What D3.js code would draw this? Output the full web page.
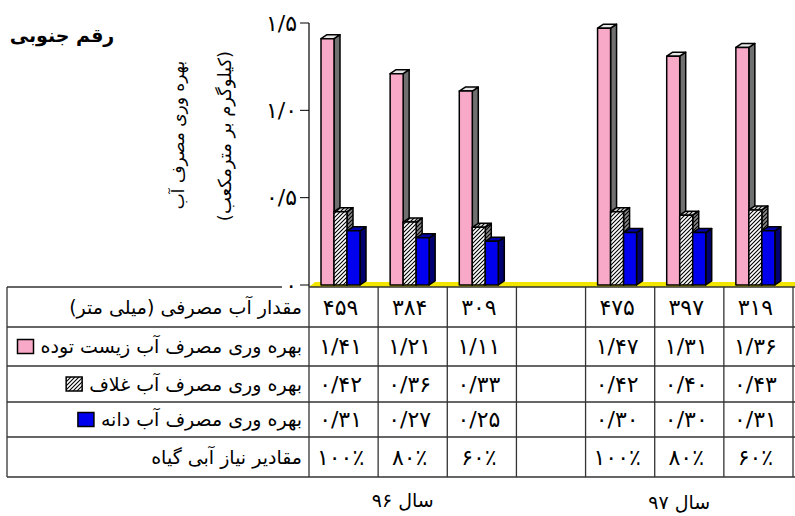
<!DOCTYPE html>
<html><head><meta charset="utf-8">
<script src="https://cdn.jsdelivr.net/npm/d3@7"></script>
<style>
body{margin:0;background:#fff}
svg{display:block}
text{font-family:"DejaVu Sans",sans-serif;fill:#000}
</style>
</head><body>
<svg id="chart" width="795" height="516"></svg>
<script>
// Columns of the data table (blank column separates the two seasons)
const columns = ["96-100", "96-80", "96-60", "gap", "97-100", "97-80", "97-60"];
const waterUse = [459, 384, 309, null, 475, 397, 319];
const biomassWP = [1.41, 1.21, 1.11, null, 1.47, 1.31, 1.36];
const podWP = [0.42, 0.36, 0.33, null, 0.42, 0.40, 0.43];
const grainWP = [0.31, 0.27, 0.25, null, 0.30, 0.30, 0.31];
const waterNeed = [100, 80, 60, null, 100, 80, 60];
const yTicks = [0, 0.5, 1.0, 1.5];
const rowLabels = [
  "مقدار آب مصرفی (میلی متر)",
  "بهره وری مصرف آب زیست توده",
  "بهره وری مصرف آب غلاف",
  "بهره وری مصرف آب دانه",
  "مقادیر نیاز آبی گیاه"
];
const yearLabels = ["سال ۹۶", "سال ۹۷"];
const yearSpans = [[0, 2], [4, 6]];

const faDigits = "۰۱۲۳۴۵۶۷۸۹";
const fa = s => String(s).replace(/\d/g, d => faDigits[d]).replace(".", "/");

const svg = d3.select("#chart");
const defs = svg.append("defs");

// diagonal hatch fills for the pod series
function hatch(id, bg) {
  const p = defs.append("pattern").attr("id", id)
    .attr("patternUnits", "userSpaceOnUse").attr("width", 4).attr("height", 4);
  p.append("rect").attr("width", 4).attr("height", 4).attr("fill", bg);
  p.append("path").attr("d", "M-1,1 l2,-2 M0,4 l4,-4 M3,5 l2,-2")
    .attr("stroke", "#000").attr("stroke-width", 1.1);
}
hatch("hatchFront", "#fff");
hatch("hatchSide", "#8a8a8a");
hatch("hatchTop", "#d8d8d8");

const series = [
  { values: biomassWP, front: "#F9A9C8", side: "#707070", top: "#e6e6e6" },
  { values: podWP, front: "url(#hatchFront)", side: "url(#hatchSide)", top: "url(#hatchTop)" },
  { values: grainWP, front: "#0000EE", side: "#000070", top: "#0000A8" }
];

// layout
const plotLeft = 309, plotRight = 793;
const tableLeft = 7, tableTop = 287;
const rowEdges = [287, 327, 366, 402, 437, 477];

const x = d3.scaleBand().domain(d3.range(columns.length)).range([plotLeft, plotRight]).paddingInner(0);
const xs = d3.scaleBand().domain(d3.range(series.length)).range([12, 51]);
const y = d3.scaleLinear().domain([0, 1.5]).range([285, 23]);
const dx = 6, dy = -4;

// floor
svg.append("polygon")
  .attr("points", [[plotLeft, 287], [plotLeft + dx, 287 + dy - 1], [795, 287 + dy - 1], [795, 287]].join(" "))
  .attr("fill", "#F2E600");

// bars
const barsG = svg.append("g").attr("stroke", "#000").attr("stroke-width", 1.5).attr("stroke-linejoin", "round");
columns.forEach((c, i) => {
  series.forEach((s, k) => {
    const v = s.values[i];
    if (v == null) return;
    const x0 = x(i) + xs(k), w = xs.bandwidth();
    const yt = y(v), yb = y(0);
    const g = barsG.append("g");
    g.append("polygon").attr("fill", s.side)
      .attr("points", [[x0 + w, yb], [x0 + w, yt], [x0 + w + dx, yt + dy], [x0 + w + dx, yb + dy]].join(" "));
    g.append("polygon").attr("fill", s.top)
      .attr("points", [[x0, yt], [x0 + dx, yt + dy], [x0 + w + dx, yt + dy], [x0 + w, yt]].join(" "));
    g.append("rect").attr("x", x0).attr("y", yt).attr("width", w).attr("height", yb - yt).attr("fill", s.front);
  });
});

// value axis
const axisG = svg.append("g");
axisG.append("line").attr("x1", plotLeft).attr("x2", plotLeft).attr("y1", y(1.5)).attr("y2", 287)
  .attr("stroke", "#000").attr("stroke-width", 1.2);
yTicks.forEach(t => {
  axisG.append("line").attr("x1", plotLeft - 9).attr("x2", plotLeft).attr("y1", y(t)).attr("y2", y(t))
    .attr("stroke", "#000").attr("stroke-width", 1);
  axisG.append("text").attr("x", plotLeft - 12).attr("y", y(t)).attr("dy", "0.35em")
    .attr("text-anchor", "end").attr("font-size", 22)
    .text(t === 0 ? fa(0) : fa(t.toFixed(1)));
});

// axis title
const at = svg.append("g");
[["بهره وری مصرف آب", 178, 135, 17], ["(کیلوگرم بر مترمکعب)", 225, 136, 18]].forEach(([t, cx, cy, fs]) => {
  at.append("text").attr("transform", `translate(${cx},${cy}) rotate(-90)`)
    .attr("direction", "rtl").attr("text-anchor", "middle").attr("dy", "0.35em")
    .attr("font-size", fs).text(t);
});

// chart title
svg.append("text").attr("x", 62).attr("y", 35).attr("dy", "0.35em")
  .attr("direction", "rtl").attr("text-anchor", "middle")
  .attr("font-size", 19).attr("font-weight", "bold").text("رقم جنوبی");

// data table
const tbl = svg.append("g").attr("stroke", "#333").attr("stroke-width", 1.3);
tbl.append("line").attr("x1", tableLeft).attr("x2", 282).attr("y1", tableTop).attr("y2", tableTop);
tbl.append("line").attr("x1", plotLeft).attr("x2", 795).attr("y1", tableTop).attr("y2", tableTop);
rowEdges.slice(1).forEach(ry => {
  tbl.append("line").attr("x1", tableLeft).attr("x2", 795).attr("y1", ry).attr("y2", ry);
});
const colEdges = [tableLeft, plotLeft].concat(d3.range(columns.length).map(i => x(i) + x.bandwidth()));
colEdges.forEach(cx => {
  tbl.append("line").attr("x1", cx).attr("x2", cx).attr("y1", tableTop).attr("y2", rowEdges[rowEdges.length - 1]);
});

const rows = [
  waterUse.map(v => v == null ? "" : fa(v)),
  biomassWP.map(v => v == null ? "" : fa(v.toFixed(2))),
  podWP.map(v => v == null ? "" : fa(v.toFixed(2))),
  grainWP.map(v => v == null ? "" : fa(v.toFixed(2))),
  waterNeed.map(v => v == null ? "" : fa(v) + "٪")
];
const legendFor = [null, 0, 1, 2, null];

rows.forEach((vals, r) => {
  const cy = (rowEdges[r] + rowEdges[r + 1]) / 2;
  const lab = svg.append("text").attr("x", 302).attr("y", cy).attr("dy", "0.35em")
    .attr("direction", "rtl").attr("text-anchor", "start").attr("font-size", 19).text(rowLabels[r]);
  const k = legendFor[r];
  if (k != null) {
    const wText = lab.node().getComputedTextLength();
    const s = series[k];
    svg.append("rect").attr("x", 302 - wText - 7 - 16).attr("y", cy - 7).attr("width", 16).attr("height", 14)
      .attr("fill", s.front).attr("stroke", "#000").attr("stroke-width", 1.5);
  }
  vals.forEach((t, i) => {
    svg.append("text").attr("x", x(i) + x.bandwidth() / 2 - 3).attr("y", cy).attr("dy", "0.35em")
      .attr("text-anchor", "middle").attr("font-size", 22).text(t);
  });
});

// season labels
yearLabels.forEach((t, j) => {
  const [a, b] = yearSpans[j];
  const cx = (x(a) + x(b) + x.bandwidth()) / 2 - 10;
  svg.append("text").attr("x", cx).attr("y", 500 + j * 2).attr("dy", "0.35em")
    .attr("direction", "rtl").attr("text-anchor", "middle").attr("font-size", 19).text(t);
});
</script>
</body></html>
